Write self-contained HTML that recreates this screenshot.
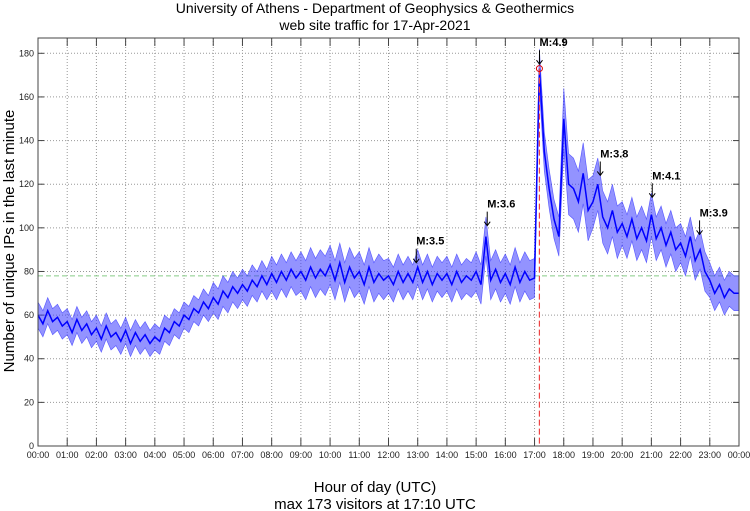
<!DOCTYPE html>
<html><head><meta charset="utf-8"><style>
body{margin:0;background:#fff;font-family:"Liberation Sans",sans-serif}
svg{display:block}
</style></head><body>
<svg id="c" width="750" height="511">
<text x="375" y="13" text-anchor="middle" font-size="14">University of Athens - Department of Geophysics &amp; Geothermics</text>
<text x="375" y="30" text-anchor="middle" font-size="14">web site traffic for 17-Apr-2021</text>
<text x="375" y="492" text-anchor="middle" font-size="15">Hour of day (UTC)</text>
<text x="375" y="509" text-anchor="middle" font-size="15">max 173 visitors at 17:10 UTC</text>
<text transform="translate(14,241) rotate(-90)" text-anchor="middle" font-size="15">Number of unique IPs in the last minute</text>
<g id="g"></g>
</svg>
<script>
const values=[60,56,62,57,59,55,57,52,58,53,56,51,54,49,55,50,52,48,53,47,52,48,51,47,
50,48,54,52,57,55,60,58,63,61,66,63,68,65,71,68,73,70,74,71,76,73,78,74,
79,75,80,76,81,77,80,76,82,77,81,78,83,76,84,75,82,77,80,74,82,75,79,76,
78,74,80,75,79,75,82,75,80,74,79,76,79,74,80,75,78,76,80,74,96,76,81,75,
79,74,82,75,80,76,77,173,135,118,104,96,150,120,118,112,125,108,112,120,105,100,108,98,
102,96,104,95,100,94,106,95,100,92,98,90,93,87,96,85,90,80,76,70,74,68,72,70,70];
const hourlySpread=[6,6,6,6,6,6,7,7,8,9,9,9,8,8,8,9,9,9,14,12,10,10,9,8];
const yTicks=[0,20,40,60,80,100,120,140,160,180];
const xTicks=["00:00","01:00","02:00","03:00","04:00","05:00","06:00","07:00","08:00","09:00","10:00","11:00","12:00","13:00","14:00","15:00","16:00","17:00","18:00","19:00","20:00","21:00","22:00","23:00","00:00"];
const quakeLabels=["M:3.5","M:3.6","M:4.9","M:3.8","M:4.1","M:3.9"];
const quakeHours=[12.95,15.38,17.17,19.25,21.03,22.65];
const quakeVals=[84,101,175,124,114,97];
const meanLevel=78;
const L=38,R=739,T=38,B=446;
const X=h=>L+(R-L)*h/24, Y=v=>B-(B-53.3)*v/180;
const g=document.getElementById('g');const NS='http://www.w3.org/2000/svg';
function mk(t,a,p){const e=document.createElementNS(NS,t);for(const k in a)e.setAttribute(k,a[k]);(p||g).appendChild(e);return e;}
yTicks.forEach(v=>{const y=Y(v);
 const l=mk('line',{x1:L,x2:R,y1:y,y2:y,stroke:'#999','stroke-dasharray':'1,2','stroke-width':1});
 
 
 mk('line',{x1:L,x2:L+6,y1:y,y2:y,stroke:'#444'});mk('line',{x1:R-6,x2:R,y1:y,y2:y,stroke:'#444'});
 const t=mk('text',{x:L-4,y:y+3,'text-anchor':'end','font-size':9,fill:'#222'});t.textContent=v;
 
 });
xTicks.forEach((s,i)=>{const x=X(i);
 if(i>0&&i<24){const l=mk('line',{x1:x,x2:x,y1:T,y2:B,stroke:'#999','stroke-dasharray':'1,2'});
 
 }
 mk('line',{x1:x,x2:x,y1:B-8,y2:B,stroke:'#444'});mk('line',{x1:x,x2:x,y1:T,y2:T+8,stroke:'#444'});
 const t=mk('text',{x:x,y:B+12,'text-anchor':'middle','font-size':9,fill:'#222'});t.textContent=s;
 
 });
const ml=mk('line',{x1:L,x2:R,y1:Y(meanLevel),y2:Y(meanLevel),stroke:'#8c8','stroke-dasharray':'5,3'});


const n=values.length-1;
// noise band
let up=[],dn=[];
values.forEach((v,i)=>{const h=24*i/n;const s=hourlySpread[Math.min(23,Math.floor(h))];
 up.push(X(h).toFixed(1)+','+Y(v+s).toFixed(1));dn.unshift(X(h).toFixed(1)+','+Y(v-s).toFixed(1));});
const band=mk('polygon',{points:up.concat(dn).join(' '),fill:'#3a3aff','fill-opacity':0.55,stroke:'#1010ff','stroke-width':0.6,'stroke-opacity':0.6});


const pts=values.map((v,i)=>X(24*i/n).toFixed(1)+','+Y(v).toFixed(1)).join(' ');
const pl=mk('polyline',{points:pts,fill:'none',stroke:'#0000ff','stroke-width':1.5});


let mi=values.indexOf(Math.max(...values));const mx=X(24*mi/n);
const vl=mk('line',{x1:mx,x2:mx,y1:Y(values[mi]),y2:B,stroke:'#e44','stroke-dasharray':'6,3','stroke-width':1.2});


const c=mk('circle',{cx:mx,cy:Y(values[mi]),r:3,fill:'none',stroke:'#d00'});


quakeLabels.forEach((s,i)=>{const x=X(quakeHours[i]),y=Y(quakeVals[i]);
 const a=mk('path',{d:`M${x},${y-14}V${y} M${x-3},${y-4}L${x},${y}L${x+3},${y-4}`,stroke:'#000',fill:'none'});
 
 
 const t=mk('text',{x:x,y:y-18,'font-size':11,'font-weight':'bold'});t.textContent=s;
 
 });
const f=mk('rect',{x:L,y:T,width:R-L,height:B-T,fill:'none',stroke:'#444'});


</script>
</body></html>
